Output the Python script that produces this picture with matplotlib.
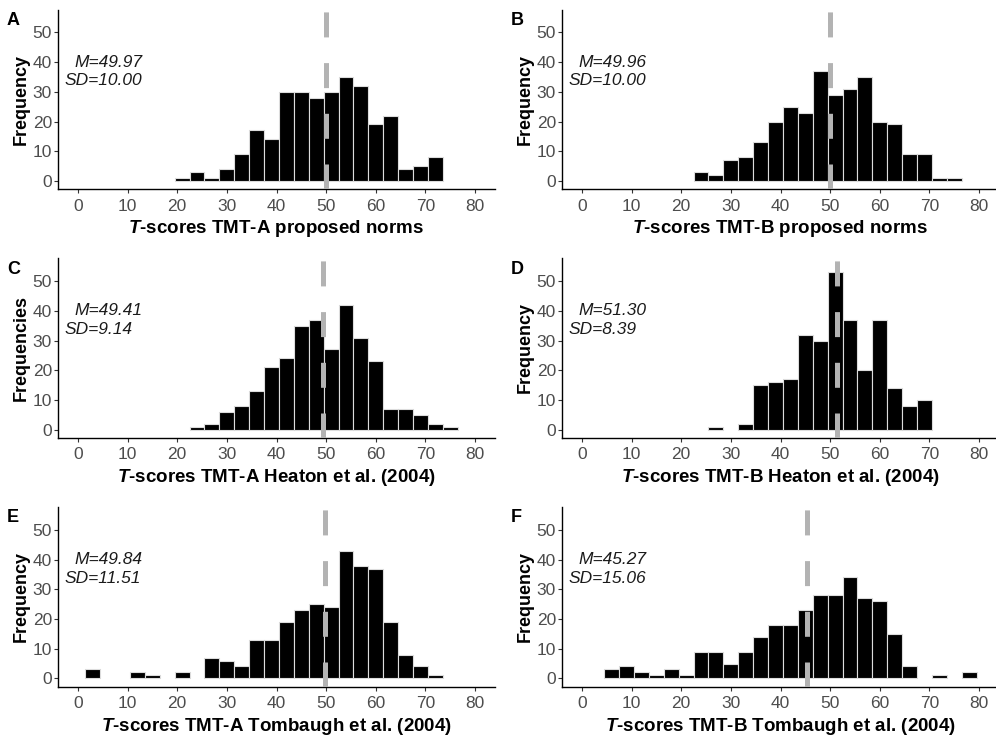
import matplotlib
matplotlib.use("Agg")
import matplotlib.pyplot as plt

plt.rcParams["font.family"] = ["Liberation Sans", "DejaVu Sans"]
plt.rcParams["mathtext.fontset"] = "custom"
plt.rcParams["mathtext.bf"] = "Liberation Sans:italic:bold"
plt.rcParams["lines.scale_dashes"] = False

BINWIDTH = 3

# left edge of the first bin + counts per 3-point bin
a_start = 19.5
a_counts = [1, 3, 1, 4, 9, 17, 14, 30, 30, 28, 30, 35, 32, 19, 22, 4, 5, 8]
b_start = 22.5
b_counts = [3, 2, 7, 8, 13, 20, 25, 23, 37, 29, 31, 35, 20, 19, 9, 9, 1, 1]
c_start = 22.5
c_counts = [1, 2, 6, 8, 13, 21, 24, 35, 37, 27, 42, 31, 23, 7, 7, 5, 2, 1]
d_start = 25.5
d_counts = [1, 0, 2, 15, 16, 17, 32, 30, 53, 37, 20, 37, 14, 8, 10]
e_start = 1.5
e_counts = [3, 0, 0, 2, 1, 0, 2, 0, 7, 6, 4, 13, 13, 19, 23, 25, 24, 43,
            38, 37, 19, 8, 4, 1]
f_start = 4.5
f_counts = [3, 4, 2, 1, 3, 1, 9, 9, 5, 9, 14, 18, 18, 23, 28, 28, 34, 27,
            26, 15, 4, 0, 1, 0, 2]

starts = [a_start, b_start, c_start, d_start, e_start, f_start]
counts = [a_counts, b_counts, c_counts, d_counts, e_counts, f_counts]
means = [49.97, 49.96, 49.41, 51.30, 49.84, 45.27]
sds = [10.00, 10.00, 9.14, 8.39, 11.51, 15.06]
letters = ["A", "B", "C", "D", "E", "F"]
y_titles = ["Frequency", "Frequency", "Frequencies", "Frequency",
            "Frequency", "Frequency"]
x_titles = [
    r"$\mathbf{T}$-scores TMT-A proposed norms",
    r"$\mathbf{T}$-scores TMT-B proposed norms",
    r"$\mathbf{T}$-scores TMT-A Heaton et al. (2004)",
    r"$\mathbf{T}$-scores TMT-B Heaton et al. (2004)",
    r"$\mathbf{T}$-scores TMT-A Tombaugh et al. (2004)",
    r"$\mathbf{T}$-scores TMT-B Tombaugh et al. (2004)",
]
x_ticks = [0, 10, 20, 30, 40, 50, 60, 70, 80]
y_ticks = [0, 10, 20, 30, 40, 50]

W, H = 996, 736
fig = plt.figure(figsize=(W / 100, H / 100), dpi=100)

col_left = [58, 562]
row_bottom = [189, 437.7, 686.5]
ax_w, ax_h = 437, 179.5

for i in range(6):
    r, c = divmod(i, 2)
    ax = fig.add_axes([col_left[c] / W, 1 - row_bottom[r] / H, ax_w / W, ax_h / H])

    lefts = [starts[i] + k * BINWIDTH for k in range(len(counts[i]))]
    xs = [x for x, n in zip(lefts, counts[i]) if n > 0]
    ns = [n for n in counts[i] if n > 0]
    ax.bar(xs, ns, width=BINWIDTH, align="edge", color="black",
           edgecolor="#dcdcdc", linewidth=0.8, zorder=2)
    ax.axvline(means[i], color="#b3b3b3", linewidth=3.6, dashes=(18, 18.5),
               dash_capstyle="butt", zorder=3)

    ax.text(-0.6, 40, f"M={means[i]:.2f}", style="italic", fontsize=12.5,
            ha="left", va="center", color="#1a1a1a")
    ax.text(-2.6, 33.7, f"SD={sds[i]:.2f}", style="italic", fontsize=12.5,
            ha="left", va="center", color="#1a1a1a")

    ax.set_xlim(-4, 84)
    ax.set_ylim(-2.75, 57.75)
    ax.set_xticks(x_ticks)
    ax.set_yticks(y_ticks)
    for s in ["top", "right"]:
        ax.spines[s].set_visible(False)
    for s in ["left", "bottom"]:
        ax.spines[s].set_linewidth(1.0)
    ax.tick_params(length=2.9, width=0.8, color="#333333", labelsize=12.5,
                   labelcolor="#4d4d4d")
    ax.tick_params(axis="x", pad=4)
    ax.tick_params(axis="y", pad=1.5)
    ax.set_xlabel(x_titles[i], fontsize=13.5, fontweight="bold", labelpad=3.5)
    ax.set_ylabel(y_titles[i], fontsize=13, fontweight="bold", labelpad=2)

    fig.text((col_left[c] - 51) / W, 1 - (row_bottom[r] - 177) / H, letters[i],
             fontsize=13, fontweight="bold", ha="left", va="top")

fig.savefig("out.png", dpi=100)
